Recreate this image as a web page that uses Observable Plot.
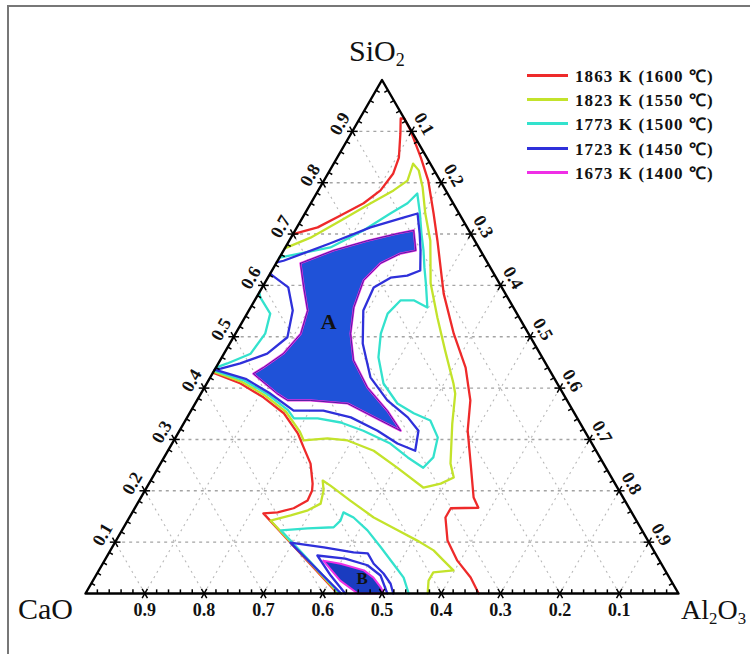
<!DOCTYPE html>
<html><head><meta charset="utf-8">
<script src="https://cdn.jsdelivr.net/npm/d3@7"></script>
<script src="https://cdn.jsdelivr.net/npm/@observablehq/plot@0.6"></script>
<style>
html,body{margin:0;padding:0;background:#fff;overflow:hidden;}
#wrap{position:relative;width:750px;height:654px;overflow:hidden;font-family:"Liberation Serif","Times New Roman",serif;}
#chart{position:absolute;left:0;top:0;}
#frame{position:absolute;left:7px;top:5px;width:800px;height:700px;border:2px solid #777;box-sizing:border-box;pointer-events:none;}
.vlab{position:absolute;font-size:30px;line-height:30px;color:#111;white-space:nowrap;}
.vlab sub{font-size:60%;vertical-align:-0.3em;line-height:0;}
.leg{position:absolute;left:527px;height:22px;display:flex;align-items:center;white-space:nowrap;}
.leg .sw{width:41px;height:3px;margin-right:7px;}
.leg .tx{font-weight:bold;font-size:17px;letter-spacing:1.1px;color:#111;}
</style></head><body>
<div id="wrap">
  <div id="chart"></div>
  <div id="frame"></div>
  <div class="vlab" style="left:349px;top:36px;">SiO<sub>2</sub></div>
  <div class="vlab" style="left:18px;top:594px;">CaO</div>
  <div class="vlab" style="left:681px;top:595px;font-size:28px;">Al<sub>2</sub>O<sub>3</sub></div>
  <div id="legend"></div>
</div>
<script>
// ---- legend / levels ----
const levels = ["1863 K (1600 \u2103)", "1823 K (1550 \u2103)", "1773 K (1500 \u2103)", "1723 K (1450 \u2103)", "1673 K (1400 \u2103)"];
const colors = ["#ee2a2a", "#c3e32b", "#33e2cd", "#2f30da", "#ef2fe6"];
const tickValues = [0.1,0.2,0.3,0.4,0.5,0.6,0.7,0.8,0.9];
const tickLabels = ["0.1","0.2","0.3","0.4","0.5","0.6","0.7","0.8","0.9"];

// ---- contours: points as [SiO2 %, Al2O3 %] (CaO = remainder) ----
const redLower = [[0,42.5],[15.6,22.2],[15.8,24.5],[16.6,26.8],[18.1,28.4],[20,28.2],[21.4,27.6],[25.3,25.3],[28.4,22.6],[31.2,20.2],[35.1,15.9],[38.2,10.9],[40.9,5.7],[43,0]];
const redUpper = [[70,0],[71.3,3.5],[73.6,6.2],[76,8.9],[78.5,10.5],[81.8,11.0],[84.9,10.4],[89.6,8.3],[92.5,6.9],[92.5,7.5],[90.2,9.7],[84.9,14.1],[80.4,17.6],[74,21.7],[68.7,25],[58.4,31.2],[50.6,36.8],[44,42.1],[37.6,46.1],[31.7,48.6],[25.3,52.3],[18.7,56.1],[16.7,57.9],[16.6,53.3],[14.8,53.3],[10.3,55.9],[6.4,59.5],[3.1,63.4],[0,66.3]];
const yellowUpper = [[67.2,0],[69.3,3.3],[72.6,6.7],[76,10.1],[78.5,12.7],[80.4,14.1],[83.7,13.4],[82.4,15],[79.1,17.3],[74,20.3],[68.7,23.8],[60.4,28],[53.7,32.5],[47.3,37],[40.9,41.6],[38.9,42.9],[33.1,45.3],[25.3,48.9],[22.6,50.8],[21.4,49.2],[20.6,46.7],[24.5,40.3],[27.8,34.7],[29.8,29.3],[30.2,25.7],[29.8,21.9],[31.5,20.4],[35.4,16.1],[38.5,11.1],[41.2,5.8],[43.2,0]];
const yellowLower = [[0,42.7],[14.2,24.1],[15.2,27],[16.2,29.4],[17.5,30.9],[20.1,30.1],[22,29],[21,30.8],[18.1,35.6],[14.8,41.2],[12.3,46.5],[10.3,50.8],[8.4,54.5],[6.4,57.2],[4.5,59.8],[4.1,56.6],[2.5,56.6],[0,57.7]];
const cyanUpper = [[65.4,0],[67.4,7.6],[70.7,11.5],[74,14.4],[76,16.3],[77.9,17],[74,19.4],[70.1,21.6],[66.8,23.6],[63.5,25.4],[60.4,27.2],[55.7,29.8],[57.1,26.8],[57.1,24.6],[54.5,23.7],[50.6,24.5],[46,26.4],[40.9,29.8],[37,34.1],[35.1,37.8],[33.7,41.3],[30.4,44.2],[26.5,45.4],[24.5,44.7],[26.5,41.1],[29.2,36.8],[31.7,31],[33.3,26.4],[34.1,22.1],[34.1,18.1],[35.7,16.3],[38.8,11.3],[41.5,6.0],[43.4,0]];
const cyanLeft = [[58.6,0],[57.6,0.7],[54.5,3.9],[50.6,5],[46.7,4.5],[44.8,1.5],[44,0]];
const cyanLower = [[0,42.9],[12.3,26.8],[12.7,31.1],[12.9,35.4],[14.2,35.9],[15.8,35.6],[14.8,37.8],[12.3,41.4],[9,45.3],[5.8,49],[3.1,52.1],[0,54.5]];
const blueUpper = [[64.5,0],[64.8,1],[68.2,7.2],[71.3,12.4],[73.2,17],[74,19],[70.1,21.3],[66.8,23.1],[62.9,25],[61.9,23.3],[61.5,20.7],[59.6,18.8],[55.1,19.3],[48.7,22.4],[42.1,27],[37.6,32.1],[34.3,37.2],[31.7,40.3],[27.8,41.7],[29.2,38],[31.7,33.4],[34.3,27.6],[35.6,22.3],[35.6,17.3],[39.1,11.4],[41.8,6.1],[43.6,0]];
const blueLeft = [[62.3,0],[61.9,0.6],[59.6,4.4],[55.1,7.4],[49.9,9.1],[46.7,7.3],[44.8,3.7],[43.8,0.9],[43.6,0]];
const blueLower = [[0,43.1],[9.9,29.6],[9,35.7],[8,41.2],[7.8,43.7],[5.8,45.7],[3.9,48.3],[1.9,50.5],[0,51.9]];
const blueInnerB = [[0,43.8],[3.5,39.6],[7.4,35.4],[6.8,40.4],[5.5,44.8],[3.5,48],[0,50.9]];
// filled regions (1673 K)
const regionA = [[64.3,4.1],[66.8,8.4],[68.7,13.2],[70.1,17.6],[70.7,20],[66.8,22.3],[66.2,20],[64.3,17.6],[61,16.4],[55.7,17.4],[50.6,19.4],[45.4,22.5],[40.1,27.5],[35.6,33.1],[31.7,37.3],[33.7,32.9],[37,25.7],[37.6,19.1],[37.6,15.3],[38.9,12.9],[42.8,6.9],[44,8],[46.7,10],[50.6,11],[55.1,9.9],[59.6,7],[64.3,4.1]];
const regionB = [[6.4,36.9],[5.8,40.1],[4.5,44.7],[3.1,47],[1.2,49.2],[0,50.3],[0,45.9],[2.5,41.7],[6.4,36.9]];
const regionLabels = [{t:"A", s:52.8, a:14.6, size:22}, {t:"B", s:2.9, a:45.2, size:17}];

// ---- ternary -> cartesian ----
const SQ = Math.sqrt(3) / 2;
const P = ([s, a]) => ({x: a / 100 + s / 200, y: s / 100 * SQ});
const edgePt = {
  bottom: t => ({x: t, y: 0}),
  left: t => ({x: t / 2, y: t * SQ}),
  right: t => ({x: t + (1 - t) / 2, y: (1 - t) * SQ})
};
const inward = {bottom: [0, 1], left: [SQ, -0.5], right: [-SQ, -0.5]};
const crossDirs = {bottom: [[0.5, SQ], [-0.5, SQ]], left: [[1, 0], [0.5, -SQ]], right: [[1, 0], [0.5, SQ]]};

// grid lines
const grid = [];
for (const t of tickValues) {
  grid.push({x1: t / 2, y1: t * SQ, x2: 1 - t / 2, y2: t * SQ, h: true});          // const SiO2
  grid.push({x1: t, y1: 0, x2: t + (1 - t) / 2, y2: (1 - t) * SQ, h: false});      // const Al2O3
  grid.push({x1: 1 - t, y1: 0, x2: (1 - t) / 2, y2: (1 - t) * SQ, h: false});      // const CaO
}
// ticks
const minorT = d3.range(1, 50).map(i => i / 50).filter((t, i) => (i + 1) % 5 !== 0);
const tickSegs = [];
for (const e of ["bottom", "left", "right"]) {
  const [nx, ny] = inward[e];
  for (const t of minorT) {
    const p = edgePt[e](t);
    tickSegs.push({x1: p.x, y1: p.y, x2: p.x + nx * 0.007, y2: p.y + ny * 0.007});
  }
  for (const t of tickValues) {
    const p = edgePt[e](t);
    for (const [dx, dy] of crossDirs[e]) {
      tickSegs.push({x1: p.x - dx * 0.009, y1: p.y - dy * 0.009, x2: p.x + dx * 0.009, y2: p.y + dy * 0.009});
    }
  }
}
// outline order: CaO(s=0,a=0), Al2O3(s=0,a=100), SiO2(s=100)
const triangle = [P([0,0]), P([0,100]), P([100,0]), P([0,0])];

const leftLabels = tickValues.map((t, i) => ({...edgePt.left(t), label: tickLabels[i]}));
const rightLabels = tickValues.map((t, i) => ({...edgePt.right(t), label: tickLabels[i]}));
const bottomLabels = tickValues.map((t, i) => ({...edgePt.bottom(1 - t), label: tickLabels[i]}));

const contours = [
  {level: 0, pts: redLower}, {level: 0, pts: redUpper},
  {level: 1, pts: yellowUpper}, {level: 1, pts: yellowLower},
  {level: 2, pts: cyanUpper}, {level: 2, pts: cyanLeft}, {level: 2, pts: cyanLower},
  {level: 3, pts: blueUpper}, {level: 3, pts: blueLeft}, {level: 3, pts: blueLower}, {level: 3, pts: blueInnerB}
];

const tickFont = {fontFamily: "Liberation Serif, Times New Roman, serif", fontWeight: "bold", fontSize: 18, fill: "#111"};

const plot = Plot.plot({
  width: 750, height: 654,
  marginLeft: 85, marginRight: 72, marginTop: 79.5, marginBottom: 61,
  x: {domain: [0, 1], axis: null},
  y: {domain: [0, SQ], axis: null},
  style: {background: "transparent", overflow: "visible"},
  marks: [
    Plot.link(grid.filter(d => !d.h), {x1: "x1", y1: "y1", x2: "x2", y2: "y2", stroke: "#b8b8b8", strokeWidth: 1.1, strokeDasharray: "2,4"}),
    Plot.link(grid.filter(d => d.h), {x1: "x1", y1: "y1", x2: "x2", y2: "y2", stroke: "#a4a4a4", strokeWidth: 1.4, strokeDasharray: "3,4"}),
    Plot.line(regionA.map(P), {x: "x", y: "y", fill: "#1f52d8", stroke: colors[4], strokeWidth: 2.2}),
    Plot.line(regionA.map(P), {x: "x", y: "y", stroke: "#2a1c8c", strokeWidth: 0.8}),
    Plot.line(regionB.map(P), {x: "x", y: "y", fill: "#1a3cc0", stroke: colors[4], strokeWidth: 2}),
    ...contours.map(c => Plot.line(c.pts.map(P), {x: "x", y: "y", stroke: colors[c.level], strokeWidth: 2.3, strokeLinejoin: "round"})),
    Plot.line(triangle, {x: "x", y: "y", stroke: "#000", strokeWidth: 2.4}),
    Plot.link(tickSegs, {x1: "x1", y1: "y1", x2: "x2", y2: "y2", stroke: "#000", strokeWidth: 1.5}),
    Plot.text(leftLabels, {x: "x", y: "y", text: "label", dx: -12.5, dy: -7.5, rotate: -60, ...tickFont}),
    Plot.text(rightLabels, {x: "x", y: "y", text: "label", dx: 12.5, dy: -7.5, rotate: 60, ...tickFont}),
    Plot.text(bottomLabels, {x: "x", y: "y", text: "label", dy: 17, ...tickFont}),
    Plot.text(regionLabels, {x: d => P([d.s, d.a]).x, y: d => P([d.s, d.a]).y, text: "t", fontSize: d => d.size, fontWeight: "bold", fontFamily: "Liberation Serif, serif", fill: "#111"})
  ]
});
document.getElementById("chart").appendChild(plot);

// legend
const legTops = [64, 88, 112, 137, 161];
const leg = document.getElementById("legend");
levels.forEach((lab, i) => {
  const row = document.createElement("div");
  row.className = "leg";
  row.style.top = legTops[i] + "px";
  row.innerHTML = `<div class="sw" style="background:${colors[i]}"></div><span class="tx">${lab}</span>`;
  leg.appendChild(row);
});
</script>
</body></html>
